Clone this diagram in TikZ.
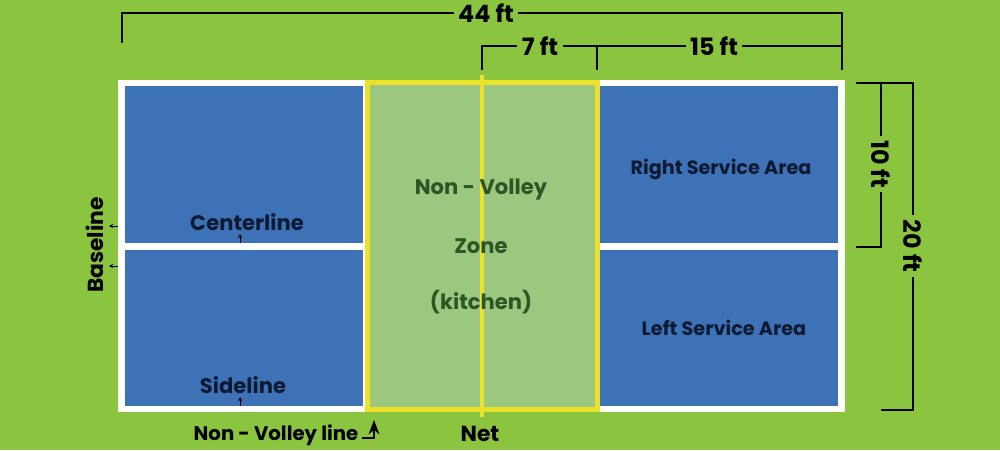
\documentclass[tikz,border=0pt]{standalone}
\usepackage{fontspec}
\setmainfont{Poppins}
\usetikzlibrary{arrows.meta}
\definecolor{turf}{HTML}{8BC43F}
\definecolor{courtblue}{HTML}{3E72B6}
\definecolor{kitchengreen}{HTML}{9BC87E}
\definecolor{netyellow}{HTML}{EDE22A}
\definecolor{navytext}{HTML}{0D1A33}
\definecolor{zonetext}{HTML}{2E5526}

\begin{document}
\begin{tikzpicture}[x=0.025cm, y=-0.025cm,
    dim/.style={line width=1.7pt, draw=black},
    dimlabel/.style={font=\bfseries\fontsize{17}{20}\selectfont, inner sep=3pt},
    courtlabel/.style={font=\bfseries\fontsize{15}{18}\selectfont, text=navytext},
    servicelabel/.style={font=\bfseries\fontsize{13.7}{16}\selectfont, text=navytext},
    zonelabel/.style={font=\bfseries\fontsize{15}{18}\selectfont, text=zonetext},
    outlabel/.style={font=\bfseries\fontsize{14}{17}\selectfont, text=black},
    tinyarrow/.style={-{Stealth[length=3pt, width=3pt]}, line width=0.6pt},
    >=Stealth]
    % Background
    \fill[turf] (0, 0) rectangle (1000, 450);
    \useasboundingbox (0, 0) rectangle (1000, 450);

    % Court - white lines and blue service areas
    \fill[white] (118, 80) rectangle (845, 412);
    \fill[courtblue] (125, 86) rectangle (363, 243);
    \fill[courtblue] (125, 250) rectangle (363, 406);
    \fill[courtblue] (600, 86) rectangle (838, 243);
    \fill[courtblue] (600, 250) rectangle (838, 406);

    % Kitchen
    \draw[fill=kitchengreen, draw=netyellow, line width=0.125cm] (367.5, 82.5) rectangle (597.5, 409.5);

    % Net
    \coordinate (nettop) at (482, 75);
    \coordinate (netbot) at (482, 417);
    \draw[netyellow, line width=0.1cm] (nettop) -- (netbot);

    % Labels inside the court
    \node[courtlabel] (centerline) at (247, 222) {Centerline};
    \node[courtlabel] (sideline) at (243, 385) {Sideline};
    \node[servicelabel] (rightarea) at (721, 169) {Right Service Area};
    \node[servicelabel] (leftarea) at (724, 328) {Left Service Area};
    \node[zonelabel] (zonea) at (481, 189) {Non - Volley};
    \node[zonelabel] (zoneb) at (481, 246) {Zone};
    \node[zonelabel] (zonec) at (481, 302) {(kitchen)};

    % Labels outside the court
    \node[outlabel, font=\bfseries\fontsize{15.5}{18}\selectfont, rotate=90] (baseline) at (95, 245) {Baseline};
    \node[outlabel] (nvline) at (276, 435) {Non - Volley line};
    \node[outlabel, font=\bfseries\fontsize{15.5}{18}\selectfont, inner sep=0pt] (net) at (480, 434) {Net};

    % Small pointers
    \coordinate (clfoot) at (240, 243);
    \coordinate (cltip) at (240, 234);
    \draw[tinyarrow] (clfoot) -- (cltip);
    \coordinate (slfoot) at (240, 406);
    \coordinate (sltip) at (240, 397);
    \draw[tinyarrow] (slfoot) -- (sltip);
    \coordinate (blafoot) at (118, 226);
    \coordinate (blatip) at (109, 226);
    \draw[tinyarrow] (blafoot) -- (blatip);
    \coordinate (blbfoot) at (118, 266);
    \coordinate (blbtip) at (109, 266);
    \draw[tinyarrow] (blbfoot) -- (blbtip);
    \coordinate (nvfoot) at (362, 438);
    \coordinate (nvtip) at (374, 420);
    \draw[->, line width=1.6pt] (nvfoot) -| (nvtip);

    % Dimensions - length
    \coordinate (l44) at (122, 43);
    \coordinate (r44) at (842, 70);
    \node[dimlabel] (d44) at (486, 13) {44 ft};
    \draw[dim] (l44) |- (d44.west);
    \draw[dim] (d44.east) -| (r44);

    \coordinate (l7) at (482, 70);
    \coordinate (m7) at (597, 70);
    \node[dimlabel] (d7) at (540, 46) {7 ft};
    \node[dimlabel] (d15) at (714, 46) {15 ft};
    \draw[dim] (l7) |- (d7.west);
    \draw[dim] (d7.east) -| (m7);
    \draw[dim] (d7.east -| m7) -- (d15.west);
    \draw[dim] (d15.east) -- (d15.east -| r44);

    % Dimensions - width
    \coordinate (topw) at (856, 83);
    \coordinate (b10) at (856, 247);
    \coordinate (b20) at (881, 410);
    \node[dimlabel, rotate=-90] (d10) at (881, 164) {10 ft};
    \node[dimlabel, rotate=-90] (d20) at (913, 246) {20 ft};
    \draw[dim] (topw) -| (d20.west);
    \draw[dim] (d10.west) -- (d10.west |- topw);
    \draw[dim] (d10.east) |- (b10);
    \draw[dim] (d20.east) |- (b20);
\end{tikzpicture}
\end{document}
